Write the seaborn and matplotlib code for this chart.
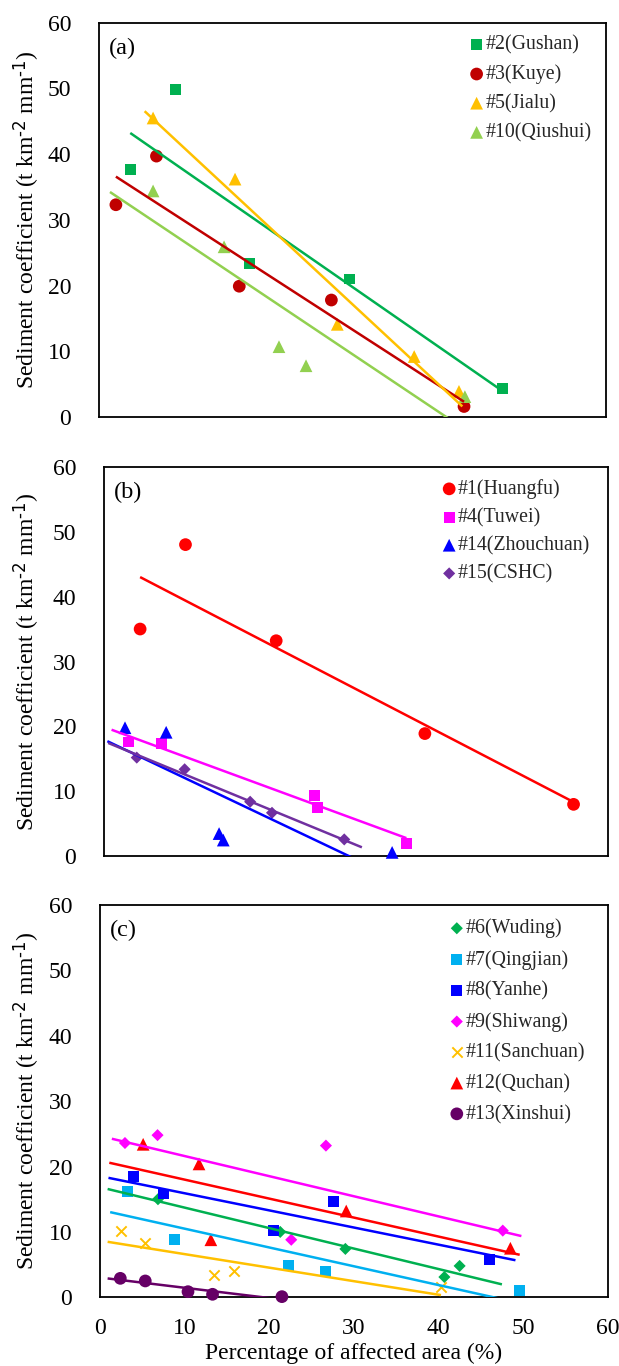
import numpy as np
import pandas as pd
import matplotlib
matplotlib.use("Agg")
import matplotlib.pyplot as plt
import seaborn as sns

# ---------------- data: panel (a) ----------------
gushan_x = [3.7, 9.1, 17.8, 29.6, 47.7]
gushan_y = [37.7, 49.9, 23.4, 21.0, 4.4]
gushan_fit = [3.7, 47.7]
kuye_x = [2.0, 6.8, 16.6, 27.5, 43.2]
kuye_y = [32.3, 39.7, 19.9, 17.8, 1.6]
kuye_fit = [2.0, 43.2]
jialu_x = [6.4, 16.1, 28.2, 37.3, 42.6]
jialu_y = [45.5, 36.2, 14.1, 9.2, 3.9]
jialu_fit = [5.4, 43.0]
qiushui_x = [6.4, 14.8, 21.3, 24.5, 43.3]
qiushui_y = [34.4, 25.9, 10.7, 7.8, 3.1]
qiushui_fit = [1.3, 43.3]

# ---------------- data: panel (b) ----------------
huangfu_x = [4.3, 9.7, 20.5, 38.2, 55.9]
huangfu_y = [35.0, 48.0, 33.2, 18.9, 8.0]
huangfu_fit = [4.3, 55.9]
tuwei_x = [2.9, 6.9, 25.1, 25.4, 36.0]
tuwei_y = [17.6, 17.3, 9.4, 7.5, 2.0]
tuwei_fit = [0.9, 36.0]
zhouchuan_x = [2.5, 7.4, 13.7, 14.2, 34.3]
zhouchuan_y = [19.8, 19.1, 3.5, 2.5, 0.6]
zhouchuan_fit = [0.4, 34.3]
cshc_x = [3.9, 9.6, 17.4, 20.0, 28.6]
cshc_y = [15.2, 13.4, 8.4, 6.7, 2.6]
cshc_fit = [0.5, 30.7]

# ---------------- data: panel (c) ----------------
wuding_x = [6.85, 21.3, 29.0, 40.7, 42.5]
wuding_y = [15.0, 10.0, 7.4, 3.1, 4.8]
wuding_fit = [0.9, 47.5]
qingjian_x = [3.3, 8.85, 22.3, 26.6, 49.6]
qingjian_y = [16.25, 8.9, 4.8, 4.0, 1.1]
qingjian_fit = [1.2, 49.6]
yanhe_x = [4.0, 7.5, 20.5, 27.6, 46.0]
yanhe_y = [18.5, 15.8, 10.2, 14.7, 5.8]
yanhe_fit = [1.0, 49.1]
shiwang_x = [2.95, 6.8, 22.6, 26.7, 47.6]
shiwang_y = [23.6, 24.8, 8.8, 23.2, 10.2]
shiwang_fit = [1.4, 49.8]
sanchuan_x = [2.5, 5.3, 13.5, 15.8, 40.3]
sanchuan_y = [10.2, 8.25, 3.4, 4.0, 1.5]
sanchuan_fit = [0.9, 40.3]
quchan_x = [5.1, 11.7, 13.1, 29.1, 48.5]
quchan_y = [23.4, 20.4, 8.8, 13.2, 7.5]
quchan_fit = [1.1, 49.6]
xinshui_x = [2.4, 5.35, 10.4, 13.3, 21.5]
xinshui_y = [2.9, 2.5, 0.86, 0.46, 0.1]
xinshui_fit = [0.9, 21.5]

panel_labels = ["(a)", "(b)", "(c)"]
y_ticks = [0, 10, 20, 30, 40, 50, 60]
x_ticks = [0, 10, 20, 30, 40, 50, 60]
y_label = r"Sediment coefficient (t km$^{\text{-2}}$ mm$^{\text{-1}}$)"
x_label = "Percentage of affected area (%)"

# ---------------- style ----------------
sns.set_theme(style="white")
plt.rcParams["font.family"] = ["Liberation Serif", "DejaVu Serif"]
plt.rcParams["mathtext.default"] = "regular"
plt.rcParams["axes.edgecolor"] = "black"
plt.rcParams["axes.linewidth"] = 1.3

SIZES = {"s": 62, "o": 84, "^": 84, "D": 38, "x": 55}

panel_a = [
    ("#2(Gushan)", gushan_x, gushan_y, gushan_fit, "#00B050", "s"),
    ("#3(Kuye)", kuye_x, kuye_y, kuye_fit, "#C00000", "o"),
    ("#5(Jialu)", jialu_x, jialu_y, jialu_fit, "#FFC000", "^"),
    ("#10(Qiushui)", qiushui_x, qiushui_y, qiushui_fit, "#92D050", "^"),
]
panel_b = [
    ("#1(Huangfu)", huangfu_x, huangfu_y, huangfu_fit, "#FF0000", "o"),
    ("#4(Tuwei)", tuwei_x, tuwei_y, tuwei_fit, "#FF00FF", "s"),
    ("#14(Zhouchuan)", zhouchuan_x, zhouchuan_y, zhouchuan_fit, "#0000FF", "^"),
    ("#15(CSHC)", cshc_x, cshc_y, cshc_fit, "#7030A0", "D"),
]
panel_c = [
    ("#6(Wuding)", wuding_x, wuding_y, wuding_fit, "#00B050", "D"),
    ("#7(Qingjian)", qingjian_x, qingjian_y, qingjian_fit, "#00B0F0", "s"),
    ("#8(Yanhe)", yanhe_x, yanhe_y, yanhe_fit, "#0000FF", "s"),
    ("#9(Shiwang)", shiwang_x, shiwang_y, shiwang_fit, "#FF00FF", "D"),
    ("#11(Sanchuan)", sanchuan_x, sanchuan_y, sanchuan_fit, "#FFC000", "x"),
    ("#12(Quchan)", quchan_x, quchan_y, quchan_fit, "#FF0000", "^"),
    ("#13(Xinshui)", xinshui_x, xinshui_y, xinshui_fit, "#660066", "o"),
]

fig = plt.figure(figsize=(6.19, 13.66), dpi=100)
W, H = 619.0, 1366.0

# axes boxes in pixels: left, top, right, bottom
boxes = [(99, 22.7, 606, 417), (104, 466.7, 608, 856.3), (100, 905, 607.7, 1297.3)]
legend_anchor = [(0.735, 0.968, 0.50), (0.675, 0.968, 0.45), (0.693, 0.965, 0.58)]
panels = [panel_a, panel_b, panel_c]

for i, (series, box) in enumerate(zip(panels, boxes)):
    l, t, r, b = box
    ax = fig.add_axes([l / W, 1 - b / H, (r - l) / W, (b - t) / H])
    handles = []
    for name, xs, ys, fit, col, mk in series:
        df = pd.DataFrame({"x": xs, "y": ys})
        kw = dict(color=col, marker=mk, s=SIZES[mk], label=name, zorder=3, clip_on=False)
        if mk == "x":
            kw["linewidth"] = 1.4
        else:
            kw["edgecolor"] = "none"
            kw["linewidth"] = 0
        sns.scatterplot(data=df, x="x", y="y", ax=ax, legend=False, **kw)
        handles.append(ax.collections[-1])
        slope, intercept = np.polyfit(xs, ys, 1)
        xf = np.array(fit)
        ax.plot(xf, slope * xf + intercept, color=col, lw=1.8, zorder=4,
                solid_capstyle="butt")
    ax.set_xlim(0, 60)
    ax.set_ylim(0, 60)
    ax.set_xticks(x_ticks)
    ax.set_yticks(y_ticks)
    ax.tick_params(axis="both", direction="in", length=4.5, width=0.8,
                   color="#A0A0A0", labelsize=17, labelcolor="black")
    ax.tick_params(axis="y", pad=20)
    ax.tick_params(axis="x", pad=15)
    for sp in ax.spines.values():
        sp.set_color("black")
        sp.set_linewidth(1.3)
    ax.set_ylabel(y_label, fontsize=17, color="black")
    ax.yaxis.set_label_coords((42 - l) / (r - l), 0.5)
    if i < 2:
        ax.set_xticklabels([])
        ax.set_xlabel("")
    else:
        ax.set_xlabel(x_label, fontsize=17, color="black", labelpad=3)
    ax.text(0.02, 0.962, panel_labels[i], transform=ax.transAxes, fontsize=17.5,
            va="top", ha="left", color="black")
    bx, by, ls = legend_anchor[i]
    leg = ax.legend(handles=handles, loc="upper left", bbox_to_anchor=(bx, by),
                    frameon=False, fontsize=14.3, borderpad=0, borderaxespad=0,
                    handlelength=0.5, handletextpad=0.2, labelspacing=ls,
                    scatterpoints=1)

fig.savefig("out.png", dpi=100)
